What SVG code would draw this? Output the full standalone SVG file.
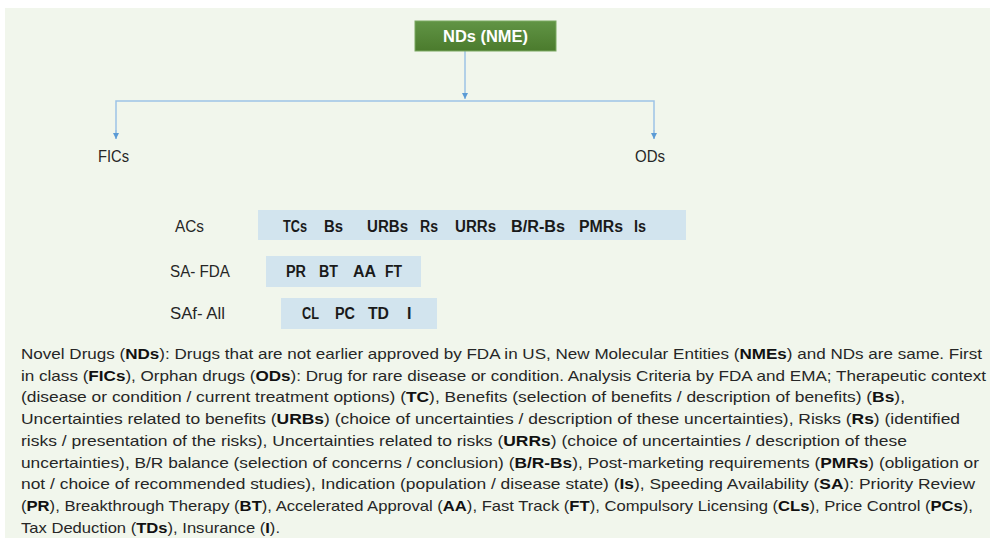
<svg xmlns="http://www.w3.org/2000/svg" width="994" height="543" viewBox="0 0 994 543">
<defs>
<linearGradient id="gr" x1="0" y1="0" x2="0" y2="1">
<stop offset="0" stop-color="#619445"/>
<stop offset="1" stop-color="#4b7b2d"/>
</linearGradient>
<marker id="ah" viewBox="0 0 10 10" refX="10" refY="5" markerWidth="6" markerHeight="6" markerUnits="userSpaceOnUse" orient="auto">
<path d="M0,0 L10,5 L0,10 z" fill="#5b9bd5"/>
</marker>
<style>
.lbl{font-family:"Liberation Sans",Arial,sans-serif;font-size:16px;fill:#262626}
.bt{font-family:"Liberation Sans",Arial,sans-serif;font-size:16px;font-weight:bold;fill:#1a1a1a}
.bar{fill:#d2e4ee}
.p{font-family:"Liberation Sans",Arial,sans-serif;font-size:15px;fill:#262626}
.p tspan.b{font-weight:bold;fill:#111}
.con{stroke:#9dc3e6;stroke-width:1.5;fill:none}
</style>
</defs>
<rect x="0" y="0" width="994" height="543" fill="#ffffff"/>
<rect x="5" y="8" width="985" height="530" fill="#f1f6ec"/>

<g id="connectors">
<line class="con" x1="465" y1="51" x2="465" y2="99" marker-end="url(#ah)"/>
<polyline class="con" points="116,139 116,101 654,101 654,139"/>
<line class="con" x1="116" y1="130" x2="116" y2="139" marker-end="url(#ah)"/>
<line class="con" x1="654" y1="130" x2="654" y2="139" marker-end="url(#ah)"/>
</g>

<g id="nds">
<rect x="415" y="21" width="141" height="30" fill="url(#gr)" stroke="#7aa860" stroke-width="1"/>
<text x="485.5" y="42" text-anchor="middle" font-family="'Liberation Sans',Arial,sans-serif" font-size="16" font-weight="bold" fill="#ffffff" textLength="85" lengthAdjust="spacingAndGlyphs">NDs (NME)</text>
</g>

<g id="fics">
<text class="lbl" x="98" y="162" textLength="31" lengthAdjust="spacingAndGlyphs">FICs</text>
</g>
<g id="ods">
<text class="lbl" x="635" y="162" textLength="30" lengthAdjust="spacingAndGlyphs">ODs</text>
</g>

<g id="acs">
<text class="lbl" x="175" y="232" textLength="29" lengthAdjust="spacingAndGlyphs">ACs</text>
<rect class="bar" x="258" y="210" width="428" height="30"/>
<text class="bt" x="283" y="232" textLength="24" lengthAdjust="spacingAndGlyphs">TCs</text>
<text class="bt" x="324" y="232" textLength="19" lengthAdjust="spacingAndGlyphs">Bs</text>
<text class="bt" x="367" y="232" textLength="41" lengthAdjust="spacingAndGlyphs">URBs</text>
<text class="bt" x="420" y="232" textLength="18" lengthAdjust="spacingAndGlyphs">Rs</text>
<text class="bt" x="455" y="232" textLength="41" lengthAdjust="spacingAndGlyphs">URRs</text>
<text class="bt" x="511" y="232" textLength="54" lengthAdjust="spacingAndGlyphs">B/R-Bs</text>
<text class="bt" x="579" y="232" textLength="44" lengthAdjust="spacingAndGlyphs">PMRs</text>
<text class="bt" x="634" y="232" textLength="12" lengthAdjust="spacingAndGlyphs">Is</text>
</g>

<g id="sa-fda">
<text class="lbl" x="170" y="277" textLength="60" lengthAdjust="spacingAndGlyphs">SA- FDA</text>
<rect class="bar" x="266" y="256" width="155" height="31"/>
<text class="bt" x="286" y="277" textLength="20" lengthAdjust="spacingAndGlyphs">PR</text>
<text class="bt" x="319" y="277" textLength="19" lengthAdjust="spacingAndGlyphs">BT</text>
<text class="bt" x="353" y="277" textLength="23" lengthAdjust="spacingAndGlyphs">AA</text>
<text class="bt" x="385" y="277" textLength="17" lengthAdjust="spacingAndGlyphs">FT</text>
</g>

<g id="saf-all">
<text class="lbl" x="170" y="319" textLength="55" lengthAdjust="spacingAndGlyphs">SAf- All</text>
<rect class="bar" x="281" y="298" width="156" height="31"/>
<text class="bt" x="302" y="319" textLength="17" lengthAdjust="spacingAndGlyphs">CL</text>
<text class="bt" x="335" y="319" textLength="20" lengthAdjust="spacingAndGlyphs">PC</text>
<text class="bt" x="368" y="319" textLength="21" lengthAdjust="spacingAndGlyphs">TD</text>
<text class="bt" x="407" y="319">I</text>
</g>

<g id="legend">
<text class="p" x="21" y="359" textLength="961" lengthAdjust="spacingAndGlyphs">Novel Drugs (<tspan class="b">NDs</tspan>): Drugs that are not earlier approved by FDA in US, New Molecular Entities (<tspan class="b">NMEs</tspan>) and NDs are same. First</text>
<text class="p" x="21" y="380.7" textLength="965" lengthAdjust="spacingAndGlyphs">in class (<tspan class="b">FICs</tspan>), Orphan drugs (<tspan class="b">ODs</tspan>): Drug for rare disease or condition. Analysis Criteria by FDA and EMA;  Therapeutic context</text>
<text class="p" x="21" y="402.4" textLength="884" lengthAdjust="spacingAndGlyphs">(disease or condition / current treatment options) (<tspan class="b">TC</tspan>), Benefits (selection of benefits / description of benefits) (<tspan class="b">Bs</tspan>),</text>
<text class="p" x="21" y="424.1" textLength="939" lengthAdjust="spacingAndGlyphs">Uncertainties related to benefits (<tspan class="b">URBs</tspan>) (choice of uncertainties / description of these uncertainties), Risks (<tspan class="b">Rs</tspan>) (identified</text>
<text class="p" x="21" y="445.8" textLength="886" lengthAdjust="spacingAndGlyphs">risks / presentation of the risks), Uncertainties related to risks (<tspan class="b">URRs</tspan>) (choice of uncertainties / description of these</text>
<text class="p" x="21" y="467.5" textLength="958" lengthAdjust="spacingAndGlyphs">uncertainties), B/R balance (selection of concerns / conclusion) (<tspan class="b">B/R-Bs</tspan>), Post-marketing requirements (<tspan class="b">PMRs</tspan>) (obligation or</text>
<text class="p" x="21" y="489.2" textLength="954" lengthAdjust="spacingAndGlyphs">not / choice of recommended studies), Indication (population / disease state) (<tspan class="b">Is</tspan>), Speeding Availability (<tspan class="b">SA</tspan>): Priority Review</text>
<text class="p" x="21" y="510.9" textLength="952" lengthAdjust="spacingAndGlyphs">(<tspan class="b">PR</tspan>), Breakthrough Therapy (<tspan class="b">BT</tspan>), Accelerated Approval (<tspan class="b">AA</tspan>), Fast Track (<tspan class="b">FT</tspan>), Compulsory Licensing (<tspan class="b">CLs</tspan>), Price Control (<tspan class="b">PCs</tspan>),</text>
<text class="p" x="21" y="532.6" textLength="259" lengthAdjust="spacingAndGlyphs">Tax Deduction (<tspan class="b">TDs</tspan>), Insurance (<tspan class="b">I</tspan>).</text>
</g>
</svg>
